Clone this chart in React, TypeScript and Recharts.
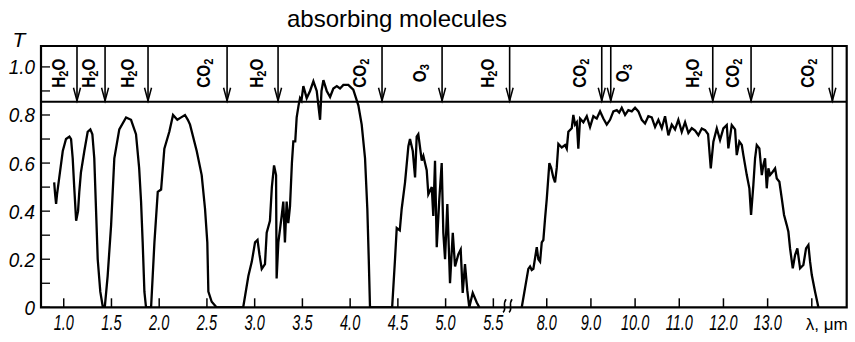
import React from 'react';
import { LineChart, Line, XAxis, YAxis, ReferenceLine, ReferenceArea, ReferenceDot } from 'recharts';

// ---------- data: short-wave part (0.9 – 5.6 µm) ----------
const shortWavelengths = [
  0.9, 0.91, 0.92, 0.93, 0.95, 0.99, 1.024, 1.06, 1.077, 1.094, 1.11, 1.13, 1.15, 1.163, 1.18, 1.216, 1.251, 1.279, 1.3, 1.32,
  1.338, 1.356, 1.383, 1.41, 1.43, 1.46, 1.496, 1.53, 1.582, 1.653, 1.705, 1.757, 1.79, 1.81, 1.827, 1.845, 1.862, 1.915, 1.932, 1.95,
  1.985, 2.02, 2.054, 2.106, 2.145, 2.19, 2.23, 2.27, 2.3, 2.323, 2.393, 2.445, 2.48, 2.504, 2.515, 2.55, 2.6, 2.88, 2.934, 2.97,
  3.004, 3.03, 3.05, 3.074, 3.108, 3.126, 3.16, 3.18, 3.203, 3.224, 3.23, 3.248, 3.283, 3.3, 3.317, 3.335, 3.352, 3.37, 3.39, 3.405,
  3.425, 3.44, 3.46, 3.475, 3.49, 3.51, 3.545, 3.58, 3.615, 3.65, 3.685, 3.7, 3.72, 3.755, 3.79, 3.824, 3.86, 3.894, 3.929, 3.981,
  4.033, 4.086, 4.121, 4.156, 4.18, 4.195, 4.208, 4.44, 4.47, 4.488, 4.52, 4.54, 4.575, 4.61, 4.627, 4.656, 4.68, 4.697, 4.714, 4.75,
  4.767, 4.802, 4.819, 4.855, 4.871, 4.889, 4.907, 4.934, 4.959, 4.976, 4.994, 5.018, 5.046, 5.075, 5.099, 5.133, 5.158, 5.179, 5.203, 5.227,
  5.248, 5.284, 5.326, 5.353,
];
const shortTransmission = [
  0.52, 0.47, 0.43, 0.47, 0.53, 0.65, 0.7, 0.71, 0.7, 0.62, 0.5, 0.36, 0.4, 0.48, 0.56, 0.65, 0.73, 0.74, 0.72, 0.62,
  0.41, 0.2, 0.065, 0, 0, 0.13, 0.34, 0.62, 0.74, 0.79, 0.78, 0.72, 0.58, 0.44, 0.27, 0.065, 0, 0, 0.13, 0.27,
  0.48, 0.49, 0.66, 0.73, 0.8, 0.78, 0.79, 0.8, 0.78, 0.76, 0.65, 0.55, 0.41, 0.27, 0.065, 0.023, 0, 0, 0.13, 0.19,
  0.27, 0.28, 0.22, 0.16, 0.18, 0.31, 0.36, 0.5, 0.59, 0.55, 0.12, 0.27, 0.38, 0.44, 0.27, 0.44, 0.35, 0.42, 0.6, 0.69,
  0.69, 0.79, 0.84, 0.87, 0.86, 0.92, 0.87, 0.9, 0.94, 0.9, 0.78, 0.9, 0.945, 0.9, 0.875, 0.91, 0.92, 0.91, 0.925, 0.925,
  0.905, 0.84, 0.76, 0.62, 0.41, 0.2, 0, 0, 0.2, 0.33, 0.32, 0.41, 0.52, 0.67, 0.7, 0.65, 0.54, 0.71, 0.72, 0.61,
  0.63, 0.57, 0.47, 0.5, 0.38, 0.61, 0.25, 0.45, 0.6, 0.31, 0.2, 0.43, 0.1, 0.31, 0.17, 0.22, 0.24, 0.06, 0.18, 0.07,
  0, 0.06, 0.02, 0,
];

// ---------- data: long-wave part (7.4 – 14.2 µm) ----------
const longWavelengths = [
  7.434, 7.509, 7.583, 7.622, 7.66, 7.697, 7.774, 7.81, 7.849, 7.887, 7.923, 7.962, 8.0, 8.059, 8.1, 8.149, 8.188, 8.226, 8.263, 8.34,
  8.414, 8.453, 8.489, 8.566, 8.602, 8.641, 8.68, 8.715, 8.754, 8.829, 8.906, 8.98, 9.055, 9.132, 9.207, 9.281, 9.358, 9.433, 9.508, 9.585,
  9.64, 9.698, 9.773, 9.847, 9.924, 9.999, 10.074, 10.151, 10.225, 10.3, 10.377, 10.452, 10.527, 10.604, 10.678, 10.753, 10.83, 10.904, 10.979, 11.056,
  11.131, 11.206, 11.283, 11.358, 11.432, 11.509, 11.584, 11.652, 11.713, 11.772, 11.849, 11.923, 11.998, 12.075, 12.111, 12.188, 12.263, 12.301, 12.36, 12.415,
  12.451, 12.528, 12.587, 12.625, 12.677, 12.716, 12.754, 12.813, 12.868, 12.904, 12.942, 12.98, 13.017, 13.055, 13.116, 13.169, 13.207, 13.266, 13.32, 13.372,
  13.433, 13.47, 13.508, 13.569, 13.621, 13.673, 13.735, 13.809, 13.87, 13.923, 13.961, 14.0, 14.074, 14.149,
];
const longTransmission = [
  0, 0.08, 0.16, 0.17, 0.155, 0.16, 0.25, 0.2, 0.19, 0.27, 0.28, 0.37, 0.45, 0.6, 0.58, 0.54, 0.52, 0.58, 0.68, 0.665,
  0.675, 0.66, 0.73, 0.745, 0.8, 0.76, 0.77, 0.66, 0.785, 0.77, 0.795, 0.75, 0.795, 0.785, 0.815, 0.785, 0.76, 0.78, 0.815, 0.82,
  0.81, 0.83, 0.8, 0.82, 0.815, 0.83, 0.815, 0.78, 0.765, 0.795, 0.79, 0.75, 0.78, 0.745, 0.795, 0.715, 0.76, 0.74, 0.78, 0.73,
  0.77, 0.725, 0.745, 0.735, 0.716, 0.744, 0.737, 0.72, 0.578, 0.689, 0.744, 0.696, 0.744, 0.758, 0.661, 0.758, 0.74, 0.633, 0.689, 0.675,
  0.633, 0.55, 0.495, 0.384, 0.509, 0.62, 0.675, 0.661, 0.55, 0.592, 0.62, 0.495, 0.578, 0.55, 0.564, 0.578, 0.536, 0.522, 0.453, 0.384,
  0.342, 0.314, 0.245, 0.162, 0.217, 0.245, 0.162, 0.176, 0.245, 0.259, 0.19, 0.134, 0.065, 0,
];

// ---------- axis ticks ----------
const xTickWavelengths = [1.0, 1.5, 2.0, 2.5, 3.0, 3.5, 4.0, 4.5, 5.0, 5.5, 8.0, 9.0, 10.0, 11.0, 12.0, 13.0, 14.0];
const xTickLabels = ['1.0', '1.5', '2.0', '2.5', '3.0', '3.5', '4.0', '4.5', '5.0', '5.5', '8.0', '9.0', '10.0', '11.0', '12.0', '13.0', 'λ, μm'];
const yTickValues = [0, 0.1, 0.2, 0.3, 0.4, 0.5, 0.6, 0.7, 0.8, 0.9, 1.0];
const yTickLabels = ['0', '', '0.2', '', '0.4', '', '0.6', '', '0.8', '', '1.0'];

// ---------- absorbing molecules band ----------
const arrowWavelengths = [1.139, 1.433, 1.883, 2.711, 3.245, 4.334, 4.963, 7.16, 9.245, 9.449, 11.758, 12.625, 14.466];
const moleculeWavelengths = [0.951, 1.265, 1.674, 2.47, 3.025, 4.104, 4.732, 5.444, 8.754, 9.727, 11.312, 12.218, 13.923];
const moleculeNames = ['H2O', 'H2O', 'H2O', 'CO2', 'H2O', 'CO2', 'O3', 'H2O', 'CO2', 'O3', 'H2O', 'CO2', 'CO2'];

// ---------- broken-axis mapping ----------
const X_MIN = 0.762;
const BREAK_SHORT = 5.654;
const LONG_START = 7.124;
const LONG_RATIO = 0.4627;
const X_MAX_LAMBDA = 14.79;
const toU = (lam: number) => (lam <= BREAK_SHORT + 1e-9 ? lam : BREAK_SHORT + (lam - LONG_START) * LONG_RATIO);
const X_MAX = toU(X_MAX_LAMBDA);
const Y_MAX = 1.087;
const BAND_BOTTOM = 0.855;
const LABEL_Y = 0.974;

const data: { u: number; T: number | null }[] = [
  ...shortWavelengths.map((l, i) => ({ u: toU(l), T: shortTransmission[i] })),
  { u: 5.5, T: null },
  ...longWavelengths.map((l, i) => ({ u: toU(l), T: longTransmission[i] })),
];

const xTicksU = xTickWavelengths.map(toU);
const allXTicks = [...xTicksU, BREAK_SHORT].sort((a, b) => a - b);

const italicFont = "'Liberation Sans', Arial, sans-serif";

const XTick = (props: any) => {
  const { x, y, payload } = props;
  const v = payload.value;
  if (Math.abs(v - BREAK_SHORT) < 1e-6) {
    return (
      <g stroke="#000" strokeWidth={1.6} fill="none">
        <path d={`M ${x - 5} ${y + 5} C ${x - 1} ${y + 2}, ${x - 6} ${y - 3}, ${x - 2} ${y - 8}`} />
        <path d={`M ${x + 1} ${y + 5} C ${x + 5} ${y + 2}, ${x} ${y - 3}, ${x + 4} ${y - 8}`} />
      </g>
    );
  }
  const i = xTicksU.findIndex((u) => Math.abs(u - v) < 1e-6);
  const label = i >= 0 ? xTickLabels[i] : '';
  const isUnit = i === xTickLabels.length - 1;
  return (
    <g>
      <line x1={x} y1={y} x2={x} y2={y - 9} stroke="#000" strokeWidth={1.5} />
      {isUnit ? (
        <text x={x + 15} y={y + 23} textAnchor="middle" fontFamily="'Liberation Sans', Arial, sans-serif" fontSize={17} fill="#000">
          {label}
        </text>
      ) : (
        <text
          transform={`translate(${x},${y + 23}) scale(0.66,1)`}
          textAnchor="middle"
          fontFamily={italicFont}
          fontStyle="italic"
          fontSize={22}
          fill="#000"
        >
          {label}
        </text>
      )}
    </g>
  );
};

const YTick = (props: any) => {
  const { x, y, payload } = props;
  const i = yTickValues.findIndex((t) => Math.abs(t - payload.value) < 1e-6);
  const label = i >= 0 ? yTickLabels[i] : '';
  return (
    <g>
      <line x1={x} y1={y} x2={x + 9} y2={y} stroke="#000" strokeWidth={1.3} />
      {label && (
        <text
          transform={`translate(${x - 6},${y + 7.5}) scale(0.9,1)`}
          textAnchor="end"
          fontFamily={italicFont}
          fontStyle="italic"
          fontSize={21}
          fill="#000"
        >
          {label}
        </text>
      )}
    </g>
  );
};

const Arrowhead = (props: any) => {
  const { cx, cy } = props;
  return <path d={`M ${cx - 3.5} ${cy - 14} L ${cx} ${cy - 1} L ${cx + 3.5} ${cy - 14}`} stroke="#000" strokeWidth={1.5} fill="none" />;
};

const MoleculeLabel = (name: string) => (props: any) => {
  const { cx, cy } = props;
  const m = name.match(/^([A-Z]+)(\d)([A-Z]*)$/);
  const head = m ? m[1] : name;
  const sub = m ? m[2] : '';
  const tail = m ? m[3] : '';
  return (
    <text
      transform={`translate(${cx + 6},${cy}) rotate(-90) scale(0.85,1)`}
      textAnchor="middle"
      fontFamily="'Liberation Sans', Arial, sans-serif"
      fontWeight="bold"
      fontSize={18}
      fill="#000"
    >
      {head}
      <tspan fontSize={13} dy={3}>{sub}</tspan>
      {tail && <tspan dy={-3}>{tail}</tspan>}
    </text>
  );
};

export default function App() {
  return (
    <div style={{ position: 'absolute', left: 0, top: 0, width: 855, height: 342, background: '#fff' }}>
      <LineChart width={855} height={342} data={data} margin={{ top: 46, right: 8.3, bottom: 0, left: 0 }}>
        <XAxis
          type="number"
          dataKey="u"
          domain={[X_MIN, X_MAX]}
          ticks={allXTicks}
          interval={0}
          tick={<XTick />}
          tickSize={0}
          tickMargin={0}
          tickLine={false}
          axisLine={false}
          height={34.7}
          allowDataOverflow
        />
        <YAxis
          type="number"
          domain={[0, Y_MAX]}
          ticks={yTickValues}
          interval={0}
          tick={<YTick />}
          tickSize={0}
          tickMargin={0}
          tickLine={false}
          axisLine={false}
          width={41}
          allowDataOverflow
        />
        <ReferenceArea x1={X_MIN} x2={X_MAX} y1={0} y2={Y_MAX} stroke="#000" strokeWidth={2.2} fill="none" fillOpacity={0} ifOverflow="visible" />
        <ReferenceLine y={BAND_BOTTOM} stroke="#000" strokeWidth={2} ifOverflow="visible" />
        {arrowWavelengths.map((l, i) => (
          <ReferenceLine
            key={`al${i}`}
            segment={[{ x: toU(l), y: BAND_BOTTOM }, { x: toU(l), y: Y_MAX }]}
            stroke="#000"
            strokeWidth={1.6}
            ifOverflow="visible"
          />
        ))}
        {arrowWavelengths.map((l, i) => (
          <ReferenceDot key={`ah${i}`} x={toU(l)} y={BAND_BOTTOM} r={1} shape={<Arrowhead />} ifOverflow="visible" />
        ))}
        {moleculeWavelengths.map((l, i) => (
          <ReferenceDot key={`ml${i}`} x={toU(l)} y={LABEL_Y} r={1} shape={MoleculeLabel(moleculeNames[i])} ifOverflow="visible" />
        ))}
        <Line
          type="linear"
          dataKey="T"
          stroke="#000"
          strokeWidth={2.3}
          dot={false}
          activeDot={false}
          connectNulls={false}
          isAnimationActive={false}
        />
        <text x={397} y={27} textAnchor="middle" fontFamily="'Liberation Sans', Arial, sans-serif" fontSize={24} fill="#000">
          absorbing molecules
        </text>
        <text x={19} y={47} textAnchor="middle" fontFamily={italicFont} fontStyle="italic" fontSize={21} fill="#000">
          T
        </text>
      </LineChart>
    </div>
  );
}
